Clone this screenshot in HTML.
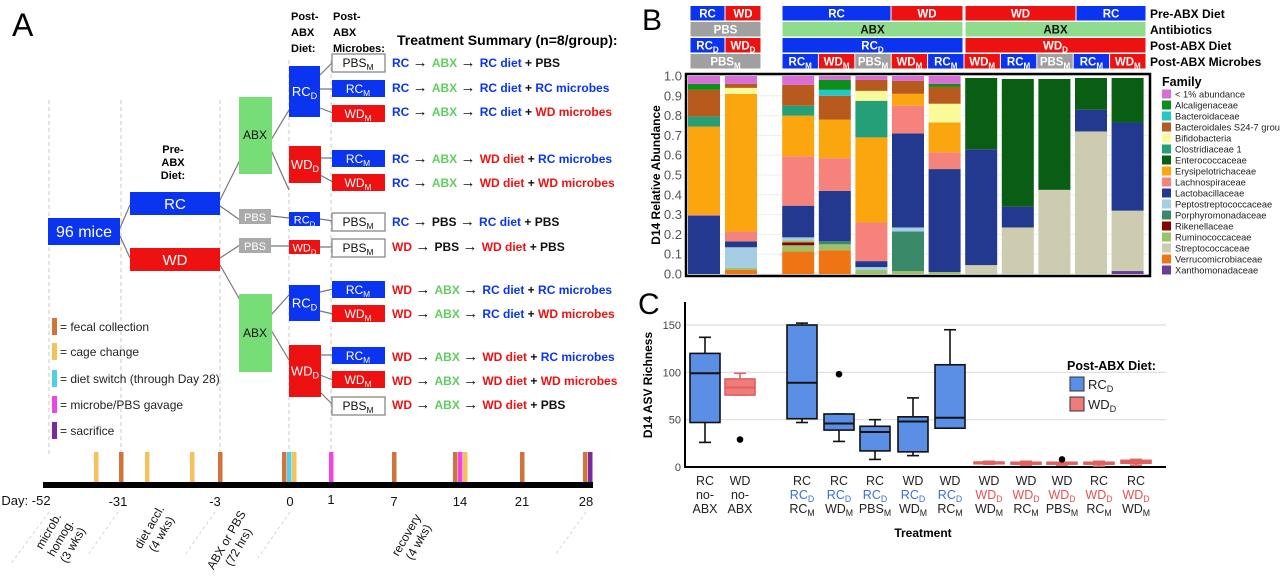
<!DOCTYPE html>
<html><head><meta charset="utf-8"><style>
html,body{margin:0;padding:0;background:#fff;}
svg{display:block;font-family:"Liberation Sans",Arial,sans-serif;}
</style></head><body>
<svg id="fig" width="1280" height="581" viewBox="0 0 1280 581" xmlns="http://www.w3.org/2000/svg">
<!-- PANEL A -->
<g id="panelA">
<text x="12" y="36" font-size="32">A</text>
<g stroke="#bbb" stroke-dasharray="4,3" stroke-width="0.8">
<line x1="49" y1="100" x2="49" y2="455"/><line x1="121" y1="100" x2="121" y2="455"/>
<line x1="220" y1="100" x2="220" y2="455"/><line x1="289" y1="60" x2="289" y2="455"/><line x1="331" y1="60" x2="331" y2="455"/>
</g>
<g font-weight="bold" font-size="11">
<text x="291" y="20">Post-</text><text x="291" y="36">ABX</text><text x="291" y="52">Diet:</text>
<text x="333" y="20">Post-</text><text x="333" y="36">ABX</text><text x="333" y="52">Microbes:</text>
<text x="173" y="153" text-anchor="middle">Pre-</text><text x="173" y="166" text-anchor="middle">ABX</text><text x="173" y="179" text-anchor="middle">Diet:</text>
<text x="397" y="45" font-size="14">Treatment Summary (n=8/group):</text>
</g>
<g stroke="#777" stroke-width="1.2" fill="none">
<path d="M120 228 L130 205 M120 236 L130 258"/>
<path d="M220 200 L240 160 M220 206 L240 220 M220 258 L240 245 M220 265 L240 300"/>
<path d="M271 140 L289 110 M271 150 L289 190 M271 216 L289 218 M271 246 L289 246 M271 315 L289 295 M271 330 L289 360"/>
<path d="M320 75 L333 62 M320 89 L333 89 M320 108 L333 113 M320 158 L333 158 M320 175 L333 182 M320 219 L333 221 M320 247 L333 247 M320 292 L333 289 M320 311 L333 314 M320 355 L333 355 M320 375 L333 380 M320 392 L333 405"/>
</g>
<g font-size="12" fill="#fff" text-anchor="middle">
<rect x="48" y="218" width="72" height="27" fill="#0a34f0"/><text x="84" y="237" font-size="16">96 mice</text>
<rect x="130" y="192" width="90" height="23" fill="#0a34f0"/><text x="175" y="209" font-size="15">RC</text>
<rect x="130" y="248" width="90" height="23" fill="#ee1111"/><text x="175" y="265" font-size="15">WD</text>
<rect x="239" y="97" width="33" height="77" fill="#77dd77"/><text x="255" y="139" fill="#111">ABX</text>
<rect x="239" y="294" width="33" height="78" fill="#77dd77"/><text x="255" y="337" fill="#111">ABX</text>
<rect x="239" y="209" width="32" height="15" fill="#aaa"/><text x="255" y="221" font-size="11">PBS</text>
<rect x="239" y="238" width="32" height="15" fill="#aaa"/><text x="255" y="250" font-size="11">PBS</text>
</g>
<g id="treeDyn"></g>
<g font-size="12" fill="#222">
<rect x="52" y="318" width="5" height="17" fill="#d2733a"/><text x="60" y="331">= fecal collection</text>
<rect x="52" y="343" width="5" height="17" fill="#f5c25a"/><text x="60" y="356">= cage change</text>
<rect x="52" y="370" width="5" height="17" fill="#4fd0e8"/><text x="60" y="383">= diet switch (through Day 28)</text>
<rect x="52" y="396" width="5" height="17" fill="#f044e8"/><text x="60" y="409">= microbe/PBS gavage</text>
<rect x="52" y="422" width="5" height="17" fill="#7a2aa0"/><text x="60" y="435">= sacrifice</text>
</g>
<rect x="43" y="482" width="550" height="6" fill="#000"/>
<g id="tlMarks"></g>
<g font-size="13" fill="#111" text-anchor="middle">
<text x="26" y="505">Day: -52</text><text x="118" y="506">-31</text><text x="215" y="506">-3</text><text x="290" y="506">0</text>
<text x="331" y="504">1</text><text x="394" y="506">7</text><text x="460" y="506">14</text><text x="522" y="506">21</text><text x="586" y="506">28</text>
</g>
<g stroke="#ccc" stroke-dasharray="3,3" stroke-width="0.8">
<line x1="49" y1="512" x2="10" y2="565"/><line x1="118" y1="512" x2="88" y2="555"/><line x1="215" y1="512" x2="185" y2="555"/><line x1="290" y1="512" x2="258" y2="558"/><line x1="586" y1="512" x2="555" y2="555"/>
</g>
<g font-size="12" fill="#111" text-anchor="middle">
<text transform="translate(64,540) rotate(-60)"><tspan x="0" dy="-14">microb.</tspan><tspan x="0" dy="14">homog.</tspan><tspan x="0" dy="14">(3 wks)</tspan></text>
<text transform="translate(158,532) rotate(-60)"><tspan x="0" dy="-6">diet accl.</tspan><tspan x="0" dy="14">(4 wks)</tspan></text>
<text transform="translate(235,545) rotate(-60)"><tspan x="0" dy="-6">ABX or PBS</tspan><tspan x="0" dy="14">(72 hrs)</tspan></text>
<text transform="translate(415,540) rotate(-60)"><tspan x="0" dy="-6">recovery</tspan><tspan x="0" dy="14">(4 wks)</tspan></text>
</g>
</g>
<!-- PANEL B -->
<g id="panelB">
<text x="642" y="30" font-size="30">B</text>
<g id="bHead"></g>
<g id="bPlot"></g>
<g id="bLegend"></g>
</g>
<!-- PANEL C -->
<g id="panelC">
<text x="638" y="314" font-size="30">C</text>
<g id="cPlot"></g>
</g>
</svg>
<script>
// ---------- data: panel B ----------
const families = ["< 1% abundance","Alcaligenaceae","Bacteroidaceae","Bacteroidales S24-7 group","Bifidobacteria","Clostridiaceae 1","Enterococcaceae","Erysipelotrichaceae","Lachnospiraceae","Lactobacillaceae","Peptostreptococcaceae","Porphyromonadaceae","Rikenellaceae","Ruminococcaceae","Streptococcaceae","Verrucomicrobiaceae","Xanthomonadaceae"];
const famColors = ["#d86fd6","#0d8f1c","#22c7c7","#b85a1e","#fafa9a","#23a077","#0a5e14","#fba50f","#f5837b","#23398f","#a6cde3","#3a8a6a","#8b0000","#9bc26b","#cdcbb0","#ef7413","#6a3d9a"];
const barGroups = ["RC-PBS","WD-PBS","RC-ABX-RC-RCm","RC-ABX-RC-WDm","RC-ABX-RC-PBSm","WD-ABX-RC-WDm","WD-ABX-RC-RCm","WD-ABX-WD-WDm","WD-ABX-WD-RCm","WD-ABX-WD-PBSm","RC-ABX-WD-RCm","RC-ABX-WD-WDm"];
const bar1 = [[9,0.295],[8,0.005],[7,0.445],[5,0.05],[3,0.135],[1,0.03],[0,0.04]];
const bar2 = [[15,0.02],[13,0.01],[10,0.105],[9,0.03],[8,0.05],[7,0.695],[4,0.03],[3,0.02],[0,0.04]];
const bar3 = [[15,0.115],[13,0.03],[12,0.015],[13,0.01],[10,0.015],[9,0.16],[8,0.25],[7,0.205],[5,0.05],[3,0.105],[0,0.045]];
const bar4 = [[15,0.12],[13,0.03],[11,0.015],[9,0.255],[8,0.165],[7,0.195],[3,0.12],[2,0.03],[1,0.05],[0,0.02]];
const bar5 = [[13,0.02],[10,0.015],[9,0.03],[8,0.195],[7,0.43],[5,0.185],[4,0.05],[3,0.055],[0,0.02]];
const bar6 = [[13,0.015],[11,0.2],[10,0.02],[9,0.475],[8,0.14],[7,0.06],[3,0.065],[0,0.025]];
const bar7 = [[13,0.01],[9,0.52],[8,0.085],[7,0.15],[4,0.095],[3,0.085],[1,0.015],[0,0.04]];
const bar8 = [[14,0.045],[9,0.585],[6,0.36]];
const bar9 = [[14,0.235],[9,0.105],[6,0.645]];
const bar10 = [[14,0.425],[6,0.56]];
const bar11 = [[14,0.72],[9,0.11],[6,0.16]];
const bar12 = [[16,0.015],[14,0.305],[9,0.445],[6,0.225]];
const stacks = [bar1,bar2,bar3,bar4,bar5,bar6,bar7,bar8,bar9,bar10,bar11,bar12];
const bTicks = ["0.0","0.1","0.2","0.3","0.4","0.5","0.6","0.7","0.8","0.9","1.0"];
// ---------- data: panel C ----------
const cCats1 = ["RC","WD","RC","RC","RC","WD","WD","WD","WD","WD","RC","RC"];
const cCats2 = ["no-","no-","RC|D","RC|D","RC|D","RC|D","RC|D","WD|D","WD|D","WD|D","WD|D","WD|D"];
const cCats3 = ["ABX","ABX","RC|M","WD|M","PBS|M","WD|M","RC|M","WD|M","RC|M","PBS|M","RC|M","WD|M"];
const cDiet = ["RC","WD","RC","RC","RC","RC","RC","WD","WD","WD","WD","WD"];
const wLow = [26,76,47,27,8,12,41,3,2,2,1,2];
const q1 = [47,76,51,39,17,16,41,4,3,3,3,4];
const med = [99,84,89,46,37,48,52,5,4,4,4,6];
const q3 = [120,93,150,56,43,53,108,5,5,5,5,7];
const wHigh = [137,99,152,56,50,73,145,6,6,5,6,8];
const outliers = [[],[29],[],[98],[],[],[],[],[],[8],[],[]];
const cTicks = [0,50,100,150];

const NS="http://www.w3.org/2000/svg";
function mk(tag, parent, attrs){const e=document.createElementNS(NS,tag);for(const k in attrs)e.setAttribute(k,attrs[k]);parent.appendChild(e);return e;}
function subText(parent,x,y,main,sub,attrs){const t=mk('text',parent,Object.assign({x:x,y:y},attrs));t.appendChild(document.createTextNode(main));if(sub){const s=mk('tspan',t,{'font-size':'70%',dy:'3'});s.textContent=sub;}return t;}

// ---------- Panel A dynamic ----------
const BLUE="#0a34f0",RED="#ee1111";
const tree=document.getElementById('treeDyn');
const dietBoxes=[[289,66,31,51,BLUE,"RC"],[289,146,32,37,RED,"WD"],[289,212,31,14,BLUE,"RC"],[289,240,31,14,RED,"WD"],[289,285,31,36,BLUE,"RC"],[289,345,32,52,RED,"WD"]];
dietBoxes.forEach(d=>{const r=mk('rect',tree,{x:d[0],y:d[1],width:d[2],height:d[3],fill:d[4]});


subText(tree,d[0]+d[2]/2,d[1]+d[3]/2+4.5,d[5],"D",{fill:'#fff','font-size':d[3]<20?11:13,'text-anchor':'middle'});});
const micro=[[54,"PBS"],[80,"RC"],[105,"WD"],[150,"RC"],[174,"WD"],[213,"PBS"],[239,"PBS"],[281,"RC"],[305,"WD"],[347,"RC"],[371,"WD"],[397,"PBS"]];
micro.forEach(m=>{const pbs=m[1]==="PBS";const r=mk('rect',tree,{x:332,y:m[0],width:53,height:pbs?18:17,fill:pbs?'#fff':(m[1]==="RC"?BLUE:RED),stroke:pbs?'#888':'none','stroke-width':1.3});


subText(tree,358,m[0]+13,m[1],"M",{fill:pbs?'#111':'#fff','font-size':12,'text-anchor':'middle'});});
const rows=[
[63,[["RC",BLUE],["ABX","#5fce5f"],["RC diet",BLUE],["PBS","#111"]]],
[88,[["RC",BLUE],["ABX","#5fce5f"],["RC diet",BLUE],["RC microbes",BLUE]]],
[112,[["RC",BLUE],["ABX","#5fce5f"],["RC diet",BLUE],["WD microbes",RED]]],
[159,[["RC",BLUE],["ABX","#5fce5f"],["WD diet",RED],["RC microbes",BLUE]]],
[183,[["RC",BLUE],["ABX","#5fce5f"],["WD diet",RED],["WD microbes",RED]]],
[222,[["RC",BLUE],["PBS","#111"],["RC diet",BLUE],["PBS","#111"]]],
[247,[["WD",RED],["PBS","#111"],["WD diet",RED],["PBS","#111"]]],
[290,[["WD",RED],["ABX","#5fce5f"],["RC diet",BLUE],["RC microbes",BLUE]]],
[314,[["WD",RED],["ABX","#5fce5f"],["RC diet",BLUE],["WD microbes",RED]]],
[357,[["WD",RED],["ABX","#5fce5f"],["WD diet",RED],["RC microbes",BLUE]]],
[381,[["WD",RED],["ABX","#5fce5f"],["WD diet",RED],["WD microbes",RED]]],
[405,[["WD",RED],["ABX","#5fce5f"],["WD diet",RED],["PBS","#111"]]]];
rows.forEach(r=>{const t=mk('text',tree,{x:392,y:r[0]+4,'font-size':12,'font-weight':'bold'});


const p=r[1];const seq=[[p[0][0]+" ",p[0][1],0],["→ ","#111",1],[p[1][0]+" ",p[1][1],0],["→ ","#111",1],[p[2][0],p[2][1],0],[" + ","#111",0],[p[3][0],p[3][1],0]];
seq.forEach(s=>{const sp=mk('tspan',t,{fill:s[1]});if(s[2])sp.setAttribute('font-size','15');sp.textContent=s[0];});});
// timeline marks
const tlTypes=["cage","fecal","cage","cage","fecal","fecal","diet","cage","gavage","fecal","fecal","gavage","cage","fecal","fecal","sacrifice"];
const tlX=[96,121,147,192,220,284,289,294,331,394,455,460,465,522,585,590];
const tlCol={fecal:"#d2733a",cage:"#f5c25a",diet:"#4fd0e8",gavage:"#f044e8",sacrifice:"#7a2aa0"};
const tl=document.getElementById('tlMarks');
tlX.forEach((x,i)=>{const r=mk('rect',tl,{x:x-2,y:452,width:4.5,height:30,fill:tlCol[tlTypes[i]]});

});

// ---------- Panel B ----------
const bx0=686,bx1=1150,by0=274,by1=76;
const yB=v=>by0-(by0-by1)*v;
const barCenter=i=>704+i*37+(i>=2?21:0)-(i>=2?i*0.4:0);
const bw=32;
const bp=document.getElementById('bPlot');
bTicks.forEach((t,i)=>{const v=parseFloat(t);
const g=mk('line',bp,{x1:bx0,x2:bx1,y1:yB(v),y2:yB(v),stroke:'#eee','stroke-width':1});


const tx=mk('text',bp,{x:bx0-4,y:yB(v)+4.5,'font-size':13,fill:'#555','text-anchor':'end'});tx.textContent=t;

});
stacks.forEach((st,i)=>{let acc=0;const cx=barCenter(i);
st.forEach(seg=>{const y0=yB(acc),y1=yB(acc+seg[1]);acc+=seg[1];
const r=mk('rect',bp,{x:cx-bw/2,y:y1,width:bw,height:Math.max(0,y0-y1),fill:famColors[seg[0]]});

});});
const fr=mk('rect',bp,{x:bx0,y:by1-2,width:bx1-bx0,height:by0-by1+4,fill:'none',stroke:'#000','stroke-width':2.5});


const yt=mk('text',bp,{x:0,y:0,transform:'translate(660,175) rotate(-90)','font-size':12,'font-weight':'bold','text-anchor':'middle'});yt.textContent="D14 Relative Abundance";


// header
const bh=document.getElementById('bHead');
const GR="#a0a0a0",LG="#8fdc8f";
const hcells=[
[0,690,725,BLUE,"RC",""],[0,725,761,RED,"WD",""],[0,782,891,BLUE,"RC",""],[0,891,963,RED,"WD",""],[0,965,1076,RED,"WD",""],[0,1076,1146,BLUE,"RC",""],
[1,690,761,GR,"PBS",""],[1,782,963,LG,"ABX",""],[1,965,1146,LG,"ABX",""],
[2,690,725,BLUE,"RC","D"],[2,725,761,RED,"WD","D"],[2,782,963,BLUE,"RC","D"],[2,965,1146,RED,"WD","D"],
[3,690,761,GR,"PBS","M"]];
const mcells=[["RC",BLUE],["WD",RED],["PBS",GR],["WD",RED],["RC",BLUE],["WD",RED],["RC",BLUE],["PBS",GR],["RC",BLUE],["WD",RED]];
mcells.forEach((m,i)=>{hcells.push([3,782+i*36.4,782+(i+1)*36.4,m[1],m[0],"M"]);});
hcells.forEach(c=>{const y=6+c[0]*16;const r=mk('rect',bh,{x:c[1]+0.5,y:y,width:c[2]-c[1]-1,height:14.5,fill:c[3]});


subText(bh,(c[1]+c[2])/2,y+11.5,c[4],c[5],{'font-size':11.5,'font-weight':'bold',fill:c[3]===LG?'#111':'#fff','text-anchor':'middle'});});
["Pre-ABX Diet","Antibiotics","Post-ABX Diet","Post-ABX Microbes"].forEach((s,i)=>{const t=mk('text',bh,{x:1150,y:18+i*16,'font-size':12,'font-weight':'bold'});t.textContent=s;

});
// legend
const bl=document.getElementById('bLegend');
const lt=mk('text',bl,{x:1162,y:86,'font-size':12.5,'font-weight':'bold'});lt.textContent="Family";


families.forEach((f,i)=>{const y=94+i*11;
const r=mk('rect',bl,{x:1162,y:y-4.5,width:9,height:9,fill:famColors[i]});


const t=mk('text',bl,{x:1175,y:y+3.5,'font-size':9.3,fill:'#222'});t.textContent=f;

});

// ---------- Panel C ----------
const cp=document.getElementById('cPlot');
const cx0=685,cx1=1166,cy0=467,cyPer=142/150;
const yC=v=>cy0-v*cyPer;
const cCenters=[705,740,802,839,875,913,950,989,1026,1062,1099,1136];
const boxW=30;
cTicks.forEach(v=>{if(v>0){const g=mk('line',cp,{x1:cx0,x2:cx1,y1:yC(v),y2:yC(v),stroke:'#ddd','stroke-width':1.2});

}
const t=mk('text',cp,{x:cx0-4,y:yC(v)+4,'font-size':11,fill:'#444','text-anchor':'end'});t.textContent=v;

});
const ax=mk('path',cp,{d:`M${cx0} 302 L${cx0} ${cy0} L${cx1} ${cy0}`,stroke:'#000','stroke-width':2,fill:'none'});


cCenters.forEach((c,i)=>{const fill=cDiet[i]==="RC"?"#5b8fe6":"#ef7b7b";const sk=cDiet[i]==="RC"?"#111":"#e06060";
const w=mk('line',cp,{x1:c,x2:c,y1:yC(wLow[i]),y2:yC(wHigh[i]),stroke:sk,'stroke-width':1.6});


[wLow[i],wHigh[i]].forEach(v=>{const cap=mk('line',cp,{x1:c-6,x2:c+6,y1:yC(v),y2:yC(v),stroke:sk,'stroke-width':1.6});

});
const b=mk('rect',cp,{x:c-boxW/2,y:yC(q3[i]),width:boxW,height:Math.max(1.5,yC(q1[i])-yC(q3[i])),fill:fill,stroke:sk,'stroke-width':1.6});


const m=mk('line',cp,{x1:c-boxW/2,x2:c+boxW/2,y1:yC(med[i]),y2:yC(med[i]),stroke:sk,'stroke-width':2});


outliers[i].forEach(v=>{const o=mk('circle',cp,{cx:c,cy:yC(v),r:3.3,fill:'#000'});

});
const mkLab=(s,y,col)=>{const p=s.split('|');subText(cp,c,y,p[0],p[1]||"",{'font-size':12.5,fill:col,'text-anchor':'middle'});};
mkLab(cCats1[i],485,'#222');
mkLab(cCats2[i],499,cCats2[i].startsWith("RC|")?"#3a6fd8":(cCats2[i].startsWith("WD|")?"#e85050":"#222"));
mkLab(cCats3[i],513,'#222');});
const xt=mk('text',cp,{x:923,y:537,'font-size':12,'font-weight':'bold','text-anchor':'middle'});xt.textContent="Treatment";


const ytc=mk('text',cp,{x:0,y:0,transform:'translate(652,385) rotate(-90)','font-size':12,'font-weight':'bold','text-anchor':'middle'});ytc.textContent="D14 ASV Richness";


const lg=mk('text',cp,{x:1067,y:370,'font-size':12.5,'font-weight':'bold'});lg.textContent="Post-ABX Diet:";


[["RC","#5b8fe6",377],["WD","#ef7b7b",397]].forEach(l=>{const r=mk('rect',cp,{x:1070,y:l[2],width:14,height:14,fill:l[1],stroke:'#333','stroke-width':1});


subText(cp,1088,l[2]+12,l[0],"D",{'font-size':13,fill:'#222'});});
</script>
</body></html>
